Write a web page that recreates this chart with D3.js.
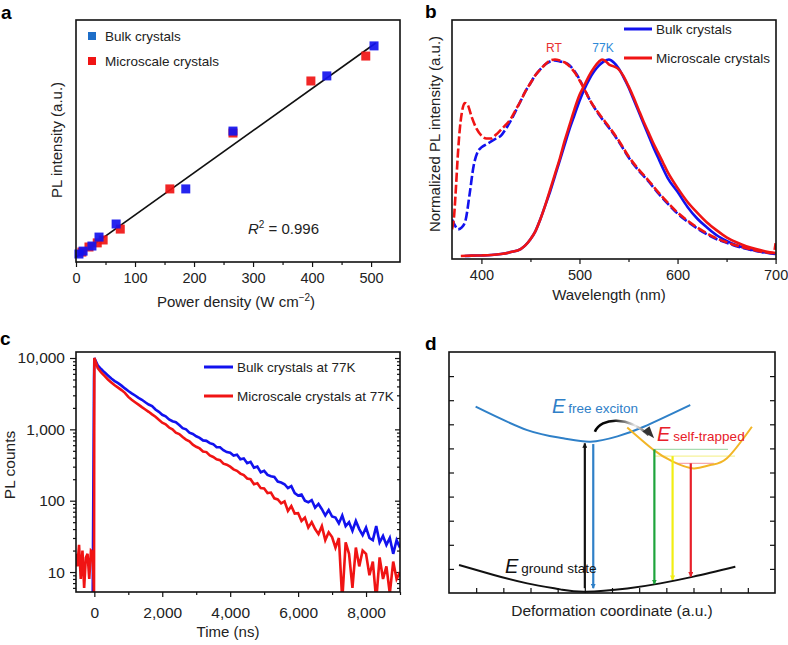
<!DOCTYPE html>
<html>
<head>
<meta charset="utf-8">
<script src="https://cdnjs.cloudflare.com/ajax/libs/d3/7.8.5/d3.min.js"></script>
<style>
body { margin: 0; background: #fff; }
svg text { font-family: "Liberation Sans", Arial, sans-serif; }
</style>
</head>
<body>
<svg id="fig" width="788" height="645"></svg>
<script>
// ---- panel a : PL intensity vs power density
var powerBulk = [505, 425, 266, 186, 68, 39, 27, 12, 5];
var intensityBulk = [89.3, 76.9, 54.1, 30.2, 15.7, 10.3, 6.6, 4.5, 3.3];
var powerMicro = [491, 398, 266, 159, 75, 46, 36, 22, 10];
var intensityMicro = [85.1, 74.8, 53.3, 30.2, 13.6, 9.1, 7.9, 6.2, 4.1];
var fitPower = [0, 508];
var fitIntensity = [2.0, 90.5];
var powerTicks = [0, 100, 200, 300, 400, 500];
var powerMinor = [50, 150, 250, 350, 450];

// ---- panel b : normalized spectra  [wavelength, value]
var bulkRT = [[370,0.19],[373,0.16],[376,0.14],[380,0.15],[384,0.19],[388,0.32],[392,0.46],[396,0.53],[400,0.555],[405,0.57],[410,0.585],[415,0.6],[420,0.615],[425,0.65],[430,0.69],[435,0.74],[440,0.79],[445,0.84],[450,0.88],[455,0.92],[460,0.95],[465,0.975],[470,0.99],[475,0.995],[480,0.99],[485,0.985],[490,0.97],[495,0.94],[500,0.9],[505,0.85],[510,0.8],[520,0.72],[530,0.655],[540,0.585],[550,0.505],[560,0.44],[570,0.385],[580,0.325],[590,0.27],[600,0.22],[610,0.18],[620,0.145],[630,0.115],[640,0.09],[650,0.072],[660,0.055],[670,0.042],[680,0.03],[690,0.022],[700,0.015]];
var microRT = [[370,0.14],[372,0.2],[374,0.35],[376,0.52],[378,0.65],[380,0.73],[383,0.78],[386,0.77],[390,0.71],[395,0.65],[400,0.615],[405,0.6],[410,0.6],[415,0.62],[420,0.645],[425,0.67],[430,0.7],[435,0.745],[440,0.79],[445,0.84],[450,0.88],[455,0.92],[460,0.95],[465,0.975],[470,0.995],[475,1.0],[480,0.995],[485,0.985],[490,0.965],[495,0.935],[500,0.895],[505,0.85],[510,0.8],[520,0.725],[530,0.66],[540,0.59],[550,0.51],[560,0.445],[570,0.39],[580,0.33],[590,0.275],[600,0.225],[610,0.185],[620,0.15],[630,0.12],[640,0.094],[650,0.075],[660,0.058],[670,0.045],[680,0.033],[690,0.024],[698,0.02],[700,0.07]];
var bulk77 = [[383,0.005],[390,0.007],[400,0.008],[410,0.01],[420,0.015],[430,0.025],[440,0.04],[445,0.06],[450,0.09],[455,0.13],[460,0.19],[465,0.26],[470,0.33],[475,0.41],[480,0.49],[485,0.57],[490,0.65],[495,0.72],[500,0.79],[505,0.85],[510,0.9],[515,0.94],[520,0.97],[525,0.99],[530,1.0],[535,0.985],[540,0.955],[545,0.91],[550,0.86],[555,0.8],[560,0.74],[565,0.68],[570,0.62],[575,0.56],[580,0.505],[585,0.45],[590,0.4],[600,0.33],[610,0.255],[620,0.195],[630,0.15],[640,0.11],[650,0.082],[660,0.06],[670,0.044],[680,0.032],[690,0.023],[700,0.017]];
var micro77 = [[379,0.005],[390,0.007],[400,0.008],[410,0.01],[420,0.015],[430,0.025],[440,0.04],[445,0.06],[450,0.09],[455,0.13],[460,0.19],[465,0.26],[470,0.34],[475,0.42],[480,0.5],[485,0.59],[490,0.67],[495,0.75],[500,0.82],[505,0.87],[510,0.92],[515,0.96],[520,0.99],[523,1.0],[527,0.99],[530,0.975],[535,0.965],[540,0.95],[545,0.915],[550,0.865],[555,0.81],[560,0.75],[565,0.69],[570,0.635],[575,0.58],[580,0.53],[585,0.48],[590,0.43],[600,0.35],[610,0.28],[620,0.225],[630,0.175],[640,0.135],[650,0.1],[660,0.075],[670,0.055],[680,0.04],[690,0.028],[700,0.02]];
var waveTicks = [400, 500, 600, 700];
var waveMinor = [450, 550, 650];

// ---- panel c : PL decay (counts every 100 ns from 0 ns)
var decayStep = 100;
var bulkCounts = [10000,7900,7000,6300,5700,5150,4750,4450,4100,3750,3450,3200,2980,2760,2600,2400,2230,2120,1900,1760,1600,1520,1380,1300,1260,1150,1040,1000,900,860,800,760,700,690,640,620,560,560,510,480,
    470,430,440,380,390,335,350,290,300,250,262,230,220,215,185,180,170,150,160,128,118,122,100,95,102,80,90,76,62,74,60,58,48,62,44,50,38,52,40,33,42,30,28,44,26,32,24,30,18,28,22];
var microCounts = [10000,7200,6300,5600,5000,4550,4150,3850,3550,3250,2850,2600,2400,2220,2050,1900,1760,1620,1500,1360,1240,1180,1060,1000,900,860,780,720,680,610,570,540,490,480,430,410,380,370,330,320,
    300,275,262,240,228,205,200,170,176,150,148,128,130,108,104,92,98,72,84,66,67,52,58,42,50,40,34,44,28,36,31,22,30,4,26,18,6,22,12,20,18,9,14,4,16,8,12,5,14,8,10];
var preTime = [-540,-500,-450,-400,-350,-300,-250,-200,-150,-100,-50,-10];
var preMicro = [18,12,24,8,20,6,16,18,8,20,19,5];
var preBulk = [3,3,3,3,3,3,3,3,3,3,3,5000];
var timeTicks = [0, 2000, 4000, 6000, 8000];
var timeMinor = [1000, 3000, 5000, 7000, 9000];
var countTicks = [10, 100, 1000, 10000];
var countMinor = [6,7,8,9,20,30,40,50,60,70,80,90,200,300,400,500,600,700,800,900,2000,3000,4000,5000,6000,7000,8000,9000];

// ---- panel d : configuration coordinate diagram (sampled curve points)
var groundX = [0.37, 1.65, 2.88, 4.1, 5.03, 6.56, 7.78, 9.0, 10.54];
var groundY = [1.16, 0.75, 0.4, 0.15, 0.05, 0.19, 0.4, 0.68, 1.09];
var freeX = [0.98, 2.88, 4.2, 5.21, 6.2, 7.17, 8.88];
var freeY = [7.73, 6.76, 6.42, 6.28, 6.5, 6.9, 7.8];
var trapX = [6.56, 7.54, 8.24, 9.0, 9.62, 10.23, 11.15];
var trapY = [6.87, 5.93, 5.45, 5.17, 5.31, 5.59, 6.9];
var arrowX = [5.0, 5.31, 7.56, 8.23, 8.9];
var arrowFrom = [0.2, 6.18, 5.96, 5.68, 5.38];
var arrowTo = [6.21, 0.2, 0.37, 0.54, 0.68];
var arrowColor = ["#111111", "#2f80c8", "#1ea43c", "#f2ee12", "#e8202a"];
var levelFrom = [7.56, 7.56, 8.38];
var levelTo = [10.27, 10.53, 9.75];
var levelY = [5.96, 5.68, 5.38];
var levelColor = ["#a8dcb0", "#f6f29a", "#f5a8b0"];
var diagTicksX = [1,2,3,4,5,6,7,8,9,10,11];
var diagTicksY = [1,2,3,4,5,6,7,8,9];

var BLUE = "#1212ee", RED = "#f01414";

var svg = d3.select("#fig");

function styleAxis(g) {
    g.select(".domain").remove();
    g.selectAll(".tick line").attr("stroke", "#111").attr("stroke-width", 1.2);
    g.selectAll(".tick text").style("fill", "#222").style("font-family", "Liberation Sans, Arial, sans-serif");
}

function frame(x0, y0, x1, y1) {
    svg.append("rect")
        .attr("x", x0).attr("y", y0)
        .attr("width", x1 - x0).attr("height", y1 - y0)
        .attr("fill", "none").attr("stroke", "#111").attr("stroke-width", 1.6);
}

function txt(x, y, t, size, color) {
    return svg.append("text").attr("x", x).attr("y", y)
        .style("font-size", size + "px").style("fill", color || "#222").text(t);
}

function panelLabel(t, x, y) {
    txt(x, y, t, 19, "#000").style("font-weight", "bold");
}

function yTitle(t, x, y, size) {
    svg.append("text").attr("transform", "translate(" + x + "," + y + ") rotate(-90)")
        .attr("text-anchor", "middle").style("font-size", size + "px").style("fill", "#222").text(t);
}

// ================= panel a =================
(function () {
    var x = d3.scaleLinear().domain([0, 549]).range([76, 400]);
    var y = d3.scaleLinear().domain([0, 100]).range([262, 20]);

    svg.append("g").attr("transform", "translate(0,262)")
        .call(d3.axisBottom(x).tickValues(powerMinor).tickSize(3).tickFormat(""))
        .call(styleAxis);
    svg.append("g").attr("transform", "translate(0,262)")
        .call(d3.axisBottom(x).tickValues(powerTicks).tickSize(5).tickPadding(6))
        .call(styleAxis)
        .selectAll("text").style("font-size", "14.5px");

    var line = d3.line().x(function (d) { return x(d[0]); }).y(function (d) { return y(d[1]); });
    svg.append("path")
        .attr("d", line(fitPower.map(function (p, i) { return [p, fitIntensity[i]]; })))
        .attr("stroke", "#111").attr("stroke-width", 1.6).attr("fill", "none");

    var s = 9;
    svg.selectAll(".sqm").data(powerMicro).enter().append("rect")
        .attr("x", function (d) { return x(d) - s / 2; })
        .attr("y", function (d, i) { return y(intensityMicro[i]) - s / 2; })
        .attr("width", s).attr("height", s).attr("fill", RED).attr("opacity", 0.92);
    svg.selectAll(".sqb").data(powerBulk).enter().append("rect")
        .attr("x", function (d) { return x(d) - s / 2; })
        .attr("y", function (d, i) { return y(intensityBulk[i]) - s / 2; })
        .attr("width", s).attr("height", s).attr("fill", BLUE).attr("opacity", 0.92);

    frame(76, 20, 400, 262);

    // legend
    svg.append("rect").attr("x", 88).attr("y", 32).attr("width", 8).attr("height", 8).attr("fill", "#1e6ec8");
    txt(105, 41, "Bulk crystals", 13.5);
    svg.append("rect").attr("x", 88).attr("y", 57).attr("width", 8).attr("height", 8).attr("fill", RED);
    txt(105, 66, "Microscale crystals", 13.5);

    var r2 = txt(248, 234, null, 15);
    r2.append("tspan").style("font-style", "italic").text("R");
    r2.append("tspan").attr("dy", -6).style("font-size", "10px").text("2");
    r2.append("tspan").attr("dy", 6).text(" = 0.996");

    var xt = txt(236, 307, null, 15).attr("text-anchor", "middle");
    xt.append("tspan").text("Power density (W cm");
    xt.append("tspan").attr("dy", -6).style("font-size", "10px").text("\u22122");
    xt.append("tspan").attr("dy", 6).text(")");

    yTitle("PL intensity (a.u.)", 62, 140, 15);
    panelLabel("a", 1, 19);
})();

// ================= panel b =================
(function () {
    var x = d3.scaleLinear().domain([370, 700]).range([452, 775.6]);
    var y = d3.scaleLinear().domain([-0.01, 1.2]).range([259, 20]);

    svg.append("clipPath").attr("id", "clipb").append("rect")
        .attr("x", 452).attr("y", 20).attr("width", 324).attr("height", 239);

    svg.append("g").attr("transform", "translate(0,259)")
        .call(d3.axisBottom(x).tickValues(waveMinor).tickSize(3).tickFormat(""))
        .call(styleAxis);
    svg.append("g").attr("transform", "translate(0,259)")
        .call(d3.axisBottom(x).tickValues(waveTicks).tickSize(5).tickPadding(6))
        .call(styleAxis)
        .selectAll("text").style("font-size", "14.5px");

    var line = d3.line().curve(d3.curveMonotoneX)
        .x(function (d) { return x(d[0]); }).y(function (d) { return y(d[1]); });
    var g = svg.append("g").attr("clip-path", "url(#clipb)");
    [[bulkRT, BLUE, "9,3"], [bulk77, BLUE, null], [microRT, RED, "9,3"], [micro77, RED, null]].forEach(function (c) {
        g.append("path").attr("d", line(c[0]))
            .attr("fill", "none").attr("stroke", c[1]).attr("stroke-width", 2.6)
            .attr("stroke-dasharray", c[2]);
    });

    frame(452, 20, 776, 259);

    svg.append("line").attr("x1", 624).attr("x2", 652).attr("y1", 29).attr("y2", 29).attr("stroke", BLUE).attr("stroke-width", 3);
    txt(656, 33.5, "Bulk crystals", 13.5);
    svg.append("line").attr("x1", 624).attr("x2", 652).attr("y1", 58).attr("y2", 58).attr("stroke", RED).attr("stroke-width", 3);
    txt(656, 62.5, "Microscale crystals", 13.5);

    txt(x(474), 52, "RT", 12, "#e83030").attr("text-anchor", "middle");
    txt(x(524), 52, "77K", 12, "#2e8ad8").attr("text-anchor", "middle");

    txt(609, 300, "Wavelength (nm)", 15).attr("text-anchor", "middle");
    yTitle("Normalized PL intensity (a.u.)", 440, 134, 15);
    panelLabel("b", 425, 18);
})();

// ================= panel c =================
(function () {
    var x = d3.scaleLinear().domain([-540, 9000]).range([76, 400]);
    var y = d3.scaleLog().domain([5.25, 12140]).range([592, 352]);

    svg.append("clipPath").attr("id", "clipc").append("rect")
        .attr("x", 76).attr("y", 352).attr("width", 324).attr("height", 240);

    var fmt = d3.format(",");
    svg.append("g").attr("transform", "translate(76,0)")
        .call(d3.axisLeft(y).tickValues(countMinor).tickSize(3).tickFormat(""))
        .call(styleAxis);
    svg.append("g").attr("transform", "translate(76,0)")
        .call(d3.axisLeft(y).tickValues(countTicks).tickSize(6).tickPadding(5).tickFormat(fmt))
        .call(styleAxis)
        .selectAll("text").style("font-size", "15.5px");
    svg.append("g").attr("transform", "translate(400,0)")
        .call(d3.axisRight(y).tickValues(countMinor).tickSize(-3).tickFormat(""))
        .call(styleAxis);
    svg.append("g").attr("transform", "translate(400,0)")
        .call(d3.axisRight(y).tickValues(countTicks).tickSize(-5).tickFormat(""))
        .call(styleAxis);
    svg.append("g").attr("transform", "translate(0,592)")
        .call(d3.axisBottom(x).tickValues(timeMinor).tickSize(3).tickFormat(""))
        .call(styleAxis);
    svg.append("g").attr("transform", "translate(0,592)")
        .call(d3.axisBottom(x).tickValues(timeTicks).tickSize(5).tickPadding(10).tickFormat(fmt))
        .call(styleAxis)
        .selectAll("text").style("font-size", "15.5px");

    function series(pre, counts) {
        var pts = preTime.map(function (t, i) { return [t, pre[i]]; });
        counts.forEach(function (c, i) { pts.push([i * decayStep, c]); });
        return pts;
    }
    var line = d3.line()
        .x(function (d) { return x(d[0]); })
        .y(function (d) { return y(Math.max(d[1], 1)); });
    var g = svg.append("g").attr("clip-path", "url(#clipc)");
    g.append("path").attr("d", line(series(preBulk, bulkCounts)))
        .attr("fill", "none").attr("stroke", BLUE).attr("stroke-width", 2.6);
    g.append("path").attr("d", line(series(preMicro, microCounts)))
        .attr("fill", "none").attr("stroke", RED).attr("stroke-width", 2.6);

    frame(76, 352, 400, 592);

    svg.append("line").attr("x1", 204).attr("x2", 233).attr("y1", 367).attr("y2", 367).attr("stroke", BLUE).attr("stroke-width", 3);
    txt(237, 371.5, "Bulk crystals at 77K", 13.5);
    svg.append("line").attr("x1", 204).attr("x2", 233).attr("y1", 396).attr("y2", 396).attr("stroke", RED).attr("stroke-width", 3);
    txt(237, 400.5, "Microscale crystals at 77K", 13.5);

    txt(228, 637, "Time (ns)", 15).attr("text-anchor", "middle");
    yTitle("PL counts", 15, 465, 15.5);
    panelLabel("c", 0, 345);
})();

// ================= panel d =================
(function () {
    var x = d3.scaleLinear().domain([0, 12]).range([449, 775]);
    var y = d3.scaleLinear().domain([0, 10]).range([593, 352]);

    svg.append("g").attr("transform", "translate(449,0)")
        .call(d3.axisLeft(y).tickValues(diagTicksY).tickSize(-5).tickFormat(""))
        .call(styleAxis);
    svg.append("g").attr("transform", "translate(775,0)")
        .call(d3.axisRight(y).tickValues(diagTicksY).tickSize(-5).tickFormat(""))
        .call(styleAxis);
    svg.append("g").attr("transform", "translate(0,593)")
        .call(d3.axisBottom(x).tickValues(diagTicksX).tickSize(-5).tickFormat(""))
        .call(styleAxis);

    var defs = svg.append("defs");
    arrowColor.forEach(function (c, i) {
        defs.append("marker").attr("id", "ah" + i)
            .attr("viewBox", "0 0 10 10").attr("refX", 9).attr("refY", 5)
            .attr("markerWidth", 5).attr("markerHeight", 5)
            .attr("markerUnits", "userSpaceOnUse").attr("orient", "auto")
            .append("path").attr("d", "M0,0L10,5L0,10z").attr("fill", c);
    });
    var grad = defs.append("linearGradient").attr("id", "hop")
        .attr("x1", "0%").attr("x2", "100%").attr("y1", "0%").attr("y2", "0%");
    grad.append("stop").attr("offset", "0%").attr("stop-color", "#000");
    grad.append("stop").attr("offset", "35%").attr("stop-color", "#111");
    grad.append("stop").attr("offset", "75%").attr("stop-color", "#e8e8e8");
    grad.append("stop").attr("offset", "100%").attr("stop-color", "#444");

    var curve = d3.line().curve(d3.curveNatural)
        .x(function (d) { return x(d[0]); }).y(function (d) { return y(d[1]); });
    function pts(xs, ys) { return xs.map(function (v, i) { return [v, ys[i]]; }); }

    // energy levels (thin)
    levelY.forEach(function (v, i) {
        svg.append("line").attr("x1", x(levelFrom[i])).attr("x2", x(levelTo[i]))
            .attr("y1", y(v)).attr("y2", y(v))
            .attr("stroke", levelColor[i]).attr("stroke-width", 1.2);
    });

    svg.append("path").attr("d", curve(pts(groundX, groundY)))
        .attr("fill", "none").attr("stroke", "#111").attr("stroke-width", 2);
    svg.append("path").attr("d", curve(pts(freeX, freeY)))
        .attr("fill", "none").attr("stroke", "#2f80c8").attr("stroke-width", 2);
    svg.append("path").attr("d", curve(pts(trapX, trapY)))
        .attr("fill", "none").attr("stroke", "#f2b526").attr("stroke-width", 2);

    arrowX.forEach(function (v, i) {
        svg.append("line").attr("x1", x(v)).attr("x2", x(v))
            .attr("y1", y(arrowFrom[i])).attr("y2", y(arrowTo[i]))
            .attr("stroke", arrowColor[i]).attr("stroke-width", 2.2)
            .attr("marker-end", "url(#ah" + i + ")");
    });

    // hopping arrow free exciton -> self-trapped
    var hp = d3.path();
    hp.moveTo(x(5.37), y(6.69));
    hp.bezierCurveTo(x(5.6), y(7.3), x(6.6), y(7.35), x(7.35), y(6.55));
    svg.append("path").attr("d", hp.toString())
        .attr("fill", "none").attr("stroke", "url(#hop)").attr("stroke-width", 2.6);
    svg.append("path")
        .attr("d", "M" + x(7.12) + "," + y(6.7) + "L" + x(7.55) + "," + y(6.42) + "L" + x(7.38) + "," + y(6.92) + "z")
        .attr("fill", "#333");

    function eLabel(tx, ty, word, color) {
        var t = txt(tx, ty, null, 13.5, color);
        t.append("tspan").style("font-style", "italic").style("font-size", "20px").text("E");
        t.append("tspan").attr("dx", 3).text(word);
    }
    eLabel(552, 413, "free exciton", "#2f80c8");
    eLabel(657, 441, "self-trapped", "#e8202a");
    eLabel(505, 573, "ground state", "#111");

    frame(449, 352, 775, 593);

    txt(612, 616, "Deformation coordinate (a.u.)", 15.5).attr("text-anchor", "middle");
    panelLabel("d", 425, 350);
})();
</script>
</body>
</html>
